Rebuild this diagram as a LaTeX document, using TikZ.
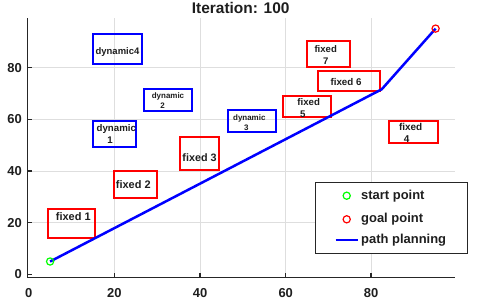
\documentclass[tikz,border=0pt]{standalone}
\usepackage{fontspec}
\setmainfont{Liberation Sans}
\definecolor{gridc}{RGB}{222,222,222}
\definecolor{axc}{RGB}{38,38,38}
\definecolor{txc}{RGB}{30,30,30}
\begin{document}
\begin{tikzpicture}[x=1bp,y=-1bp,
  fs/.style={font=\bfseries\fontsize{#1}{#1}\selectfont},
  rbox/.style={draw=red, line width=2bp, inner sep=0pt},
  bbox/.style={draw=blue, line width=2bp, inner sep=0pt},
  lbl/.style={inner sep=0pt, text=txc},
  gridline/.style={draw=gridc, line width=0.9bp},
  axisline/.style={draw=axc, line width=1.8bp},
  tickline/.style={draw=axc, line width=1.2bp}]
\useasboundingbox[fill=white] (0,0) rectangle (480,307);
% grid
\foreach \x in {114.3,200,285.7,371} \draw[gridline] (\x,18) -- (\x,277.5);
\foreach \y in {222.7,171.0,119.3,67.6} \draw[gridline] (27.5,\y) -- (455,\y);
% axes
\draw[axisline] (27.5,18) -- (27.5,277.5) -- (455,277.5);
\foreach \x in {114.3,200,285.7,371} \draw[tickline] (\x,277.5) -- (\x,273);
\foreach \y in {274.4,222.7,171.0,119.3,67.6} \draw[tickline] (27.5,\y) -- (32,\y);
% tick labels
\foreach \x/\t in {28.7/0,114.3/20,200/40,285.7/60,371/80}
  \node[lbl,fs=13] (xl\t) at (\x,293.3) {\t};
\foreach \y/\t in {274.4/0,222.7/20,171.0/40,119.3/60,67.6/80}
  \node[lbl,fs=13,anchor=east] (yl\t) at (22,\y) {\t};
% title
\node[lbl,fs=15.5] (title) at (240.7,8.3) {Iteration: 100};
% obstacles
\node[bbox, minimum width=48.4, minimum height=30] (d4) at (117.5,49.3) {};
\node[bbox, minimum width=47.4, minimum height=21.7] (d2) at (168,100.15) {};
\node[bbox, minimum width=42.7, minimum height=26] (d1) at (114.65,133.7) {};
\node[bbox, minimum width=47.7, minimum height=21.7] (d3) at (252.15,120.85) {};
\node[rbox, minimum width=39.3, minimum height=33.3] (f3) at (199.65,153.35) {};
\node[rbox, minimum width=43.3, minimum height=26.7] (f2) at (135.65,184.35) {};
\node[rbox, minimum width=47.6, minimum height=29.6] (f1) at (71.5,223.5) {};
\node[rbox, minimum width=43.3, minimum height=25.7] (f7) at (328.35,53.85) {};
\node[rbox, minimum width=61.7, minimum height=20.3] (f6) at (349.15,80.85) {};
\node[rbox, minimum width=47.4, minimum height=21.6] (f5) at (307,106.5) {};
\node[rbox, minimum width=48.7, minimum height=22.3] (f4) at (413.65,132.15) {};
% obstacle labels
\node[lbl,fs=9.5] (td4) at (117.5,52) {dynamic4};
\node[lbl,fs=8] (td2a) at (168,96.5) {dynamic};
\node[lbl,fs=8] (td2b) at (162.7,105.7) {2};
\node[lbl,fs=9.7] (td1a) at (116.3,129) {dynamic};
\node[lbl,fs=9.7] (td1b) at (110,140) {1};
\node[lbl,fs=8] (td3a) at (249.3,118) {dynamic};
\node[lbl,fs=8] (td3b) at (246.3,127.7) {3};
\node[lbl,fs=10.8] (tf3) at (199.5,157.5) {fixed 3};
\node[lbl,fs=11] (tf2) at (133.3,185) {fixed 2};
\node[lbl,fs=11] (tf1) at (73.3,216.7) {fixed 1};
\node[lbl,fs=9.6] (tf7a) at (325.7,49) {fixed};
\node[lbl,fs=9.6] (tf7b) at (325.7,61) {7};
\node[lbl,fs=9.8] (tf6) at (346,82.3) {fixed 6};
\node[lbl,fs=9.7] (tf5a) at (308.7,101.7) {fixed};
\node[lbl,fs=9.7] (tf5b) at (302.7,114) {5};
\node[lbl,fs=10] (tf4a) at (410.7,126.7) {fixed};
\node[lbl,fs=10] (tf4b) at (406.7,139.3) {4};
% path
\coordinate (start) at (50.1,261.5);
\coordinate (knee) at (381.7,89.3);
\coordinate (goal) at (435.6,28.6);
\draw[blue, line width=2.5bp, line join=round] (start) -- (knee) -- (goal);
\draw[green, line width=1.2bp] (start) circle (3.6);
\draw[red, line width=1.2bp] (goal) circle (3.6);
% legend
\node[draw=axc, fill=white, line width=0.8bp, minimum width=152.7, minimum height=70.6, inner sep=0pt] (leg) at (391.35,218) {};
\coordinate (lg1) at (346.7,195.7);
\coordinate (lg2) at (346.7,219.3);
\coordinate (lg3a) at (335.7,240);
\coordinate (lg3b) at (358.3,240);
\draw[green, line width=1.2bp] (lg1) circle (3.6);
\draw[red, line width=1.2bp] (lg2) circle (3.6);
\draw[blue, line width=2.5bp] (lg3a) -- (lg3b);
\node[lbl,fs=13,anchor=west] (ls) at (361,195.7) {start point};
\node[lbl,fs=13,anchor=west] (lgp) at (361,219.3) {goal point};
\node[lbl,fs=13,anchor=west] (lp) at (361,240) {path planning};
\end{tikzpicture}
\end{document}
